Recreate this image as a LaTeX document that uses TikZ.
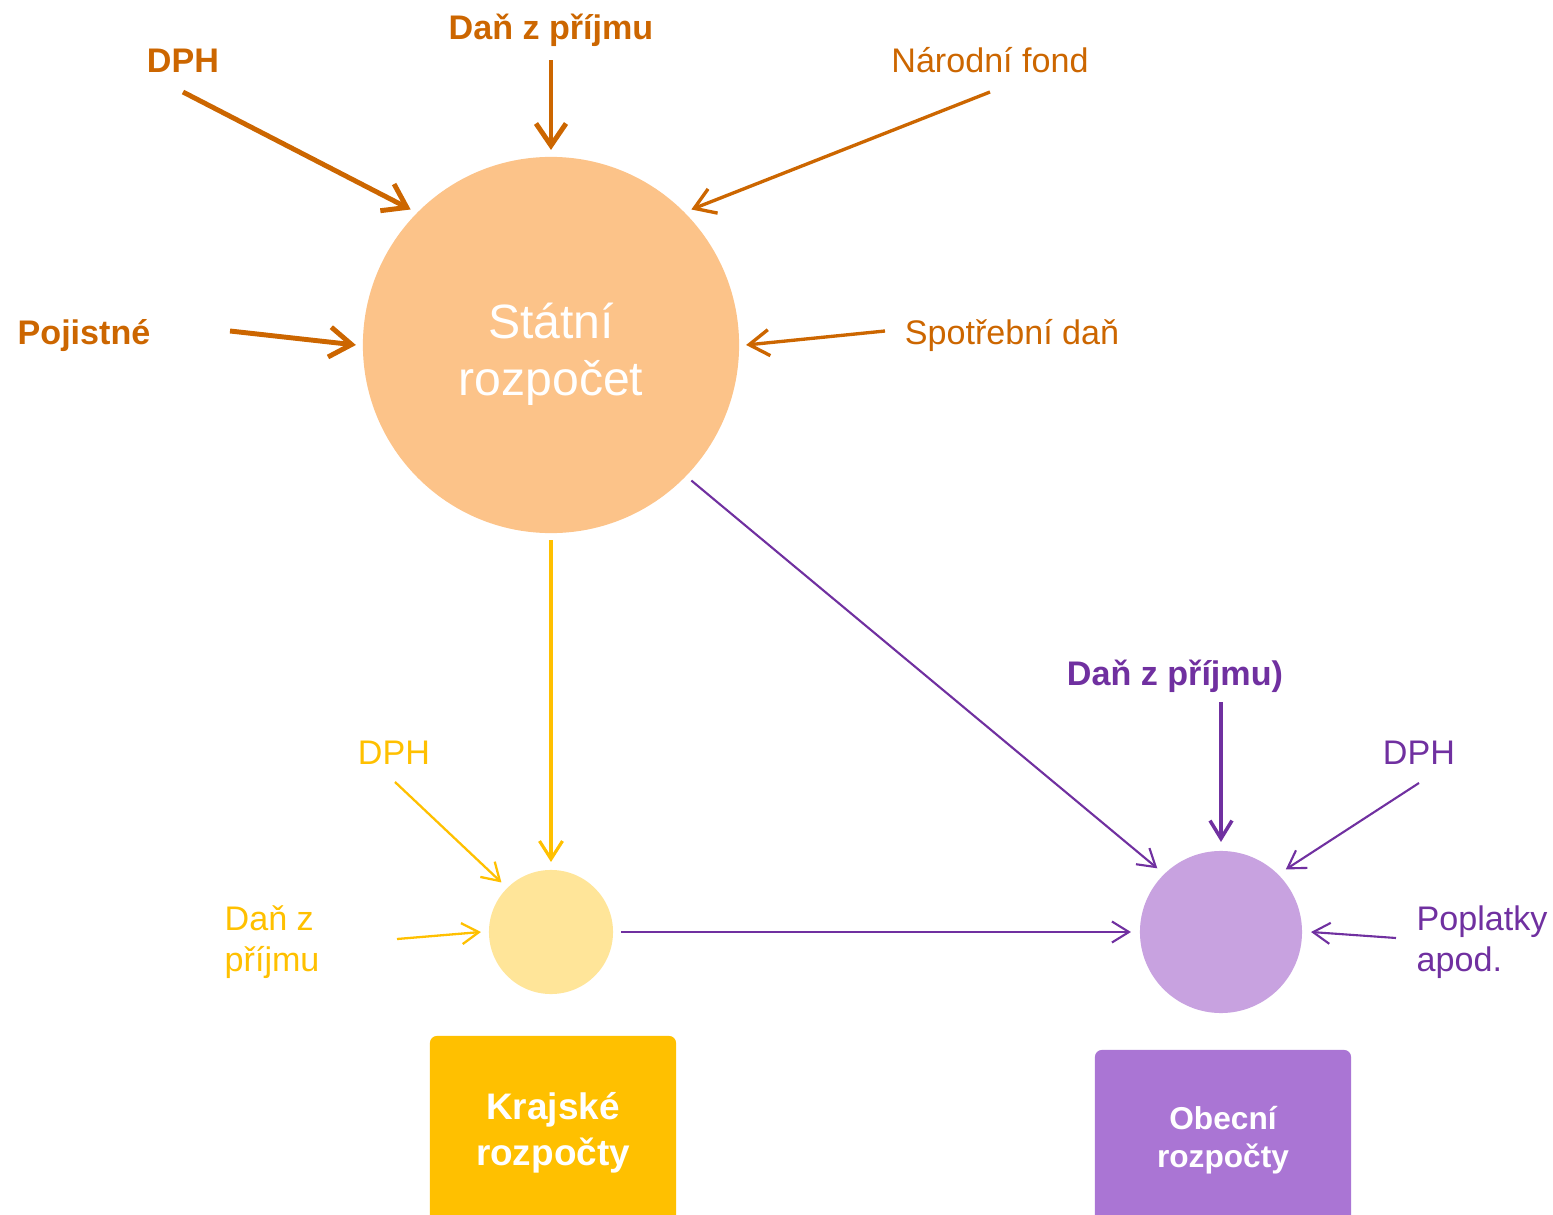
\documentclass[tikz,border=0pt]{standalone}
\usepackage{fontspec}
\setmainfont{Liberation Sans}
\usetikzlibrary{arrows.meta}

\definecolor{ordark}{RGB}{204,102,0}
\definecolor{statfill}{RGB}{252,195,137}
\definecolor{yldark}{RGB}{255,192,0}
\definecolor{ylfill}{RGB}{255,229,153}
\definecolor{pudark}{RGB}{112,48,160}
\definecolor{pufill}{RGB}{200,162,224}
\definecolor{pubox}{RGB}{170,117,212}

\begin{document}
\begin{tikzpicture}[x=0.01cm, y=0.01cm]
\tikzstyle{every node}+=[inner sep=0pt]
\tikzstyle{lbl}=[font=\fontsize{9.7}{11.6}\selectfont, anchor=base]
\tikzstyle{lbl2}=[font=\fontsize{9.7}{11.6}\selectfont, anchor=base west, align=left]
\tikzstyle{othick}=[draw=ordark, line width=1.4pt, -{Straight Barb[length=0.22cm,width=0.3cm]}]
\tikzstyle{omed}=[draw=ordark, line width=0.95pt, -{Straight Barb[length=0.2cm,width=0.26cm]}]
\tikzstyle{ymed}=[draw=yldark, line width=0.9pt, -{Straight Barb[length=0.18cm,width=0.23cm]}]
\tikzstyle{ythin}=[draw=yldark, line width=0.65pt, -{Straight Barb[length=0.17cm,width=0.21cm]}]
\tikzstyle{pmed}=[draw=pudark, line width=1pt, -{Straight Barb[length=0.18cm,width=0.22cm]}]
\tikzstyle{pthin}=[draw=pudark, line width=0.6pt, -{Straight Barb[length=0.17cm,width=0.21cm]}]
\tikzstyle{budget}=[rounded corners=0.07cm, text=white, align=center]
\useasboundingbox (0,0) rectangle (1553,-1215);
% circles
\node [circle, fill=statfill, minimum size=3.76cm, outer sep=0.07cm, text=white, align=center,
  font=\fontsize{13.7}{16.2}\selectfont] (stat) at (551,-345) {\rule{0pt}{15.6pt}Státní\\rozpočet};
\node [circle, fill=ylfill, minimum size=1.24cm, outer sep=0.08cm] (kraj) at (551,-932) {};
\node [circle, fill=pufill, minimum size=1.62cm, outer sep=0.09cm] (obec) at (1221,-932) {};
% boxes
\node [budget, fill=yldark, minimum width=2.46cm, minimum height=1.94cm,
  font=\fontsize{10.5}{13}\selectfont\bfseries] (krajbox) at (553,-1133) {Krajské\\rozpočty};
\node [budget, fill=pubox, minimum width=2.56cm, minimum height=1.8cm,
  font=\fontsize{9}{10.8}\selectfont\bfseries] (obecbox) at (1223,-1140) {Obecní\\rozpočty};
% state budget sources
\node [lbl, text=ordark] (odph) at (183,-73) {\textbf{DPH}};
\node [lbl, text=ordark] (odan) at (551,-40) {\textbf{Daň z příjmu}};
\node [lbl, text=ordark] (onar) at (990,-73) {Národní fond};
\node [lbl, text=ordark] (opoj) at (84,-344) {\textbf{Pojistné}};
\node [lbl, text=ordark] (ospo) at (1012,-344) {Spotřební daň};
\coordinate (odphT) at (183,-92);
\coordinate (odanT) at (551,-60);
\coordinate (onarT) at (990,-92);
\coordinate (opojT) at (230,-331);
\coordinate (ospoT) at (885,-331);
\draw [othick] (odphT) -- (stat.136);
\draw [othick] (odanT) -- (stat.90);
\draw [omed] (onarT) -- (stat.44);
\draw [othick] (opojT) -- (stat.180);
\draw [omed] (ospoT) -- (stat.0);
% regional budgets
\node [lbl, text=yldark] (ydph) at (394,-764) {DPH};
\node [lbl2, text=yldark] (ydan) at (224,-971) {Daň z\\příjmu};
\coordinate (ydphT) at (395,-782);
\coordinate (ydanT) at (397,-939);
\draw [ymed] (stat.270) -- (kraj.90);
\draw [ythin] (ydphT) -- (kraj.135);
\draw [ythin] (ydanT) -- (kraj.180);
% municipal budgets
\node [lbl, text=pudark] (pdan) at (1175,-685) {\textbf{Daň z příjmu)}};
\node [lbl, text=pudark] (pdph) at (1419,-764) {DPH};
\node [lbl2, text=pudark] (ppop) at (1416,-971) {Poplatky\\apod.};
\coordinate (pdanT) at (1221,-702);
\coordinate (pdphT) at (1419,-783);
\coordinate (ppopT) at (1396,-938);
\draw [pthin] (stat.-44.4) -- (obec.135.5);
\draw [pthin] (kraj.0) -- (obec.180);
\draw [pmed] (pdanT) -- (obec.90);
\draw [pthin] (pdphT) -- (obec.44);
\draw [pthin] (ppopT) -- (obec.0);
\end{tikzpicture}
\end{document}
